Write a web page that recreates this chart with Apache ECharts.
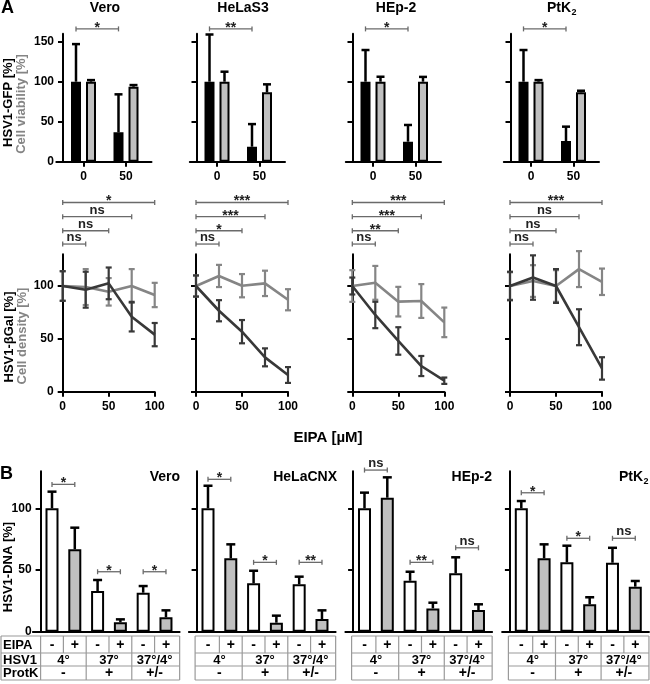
<!DOCTYPE html>
<html><head><meta charset="utf-8">
<script src="https://cdn.jsdelivr.net/npm/echarts@6/dist/echarts.min.js"></script>
<style>html,body{margin:0;padding:0;background:#fff}#c{width:650px;height:684px}</style>
</head><body><div id="c"></div>
<script>
// ---------------- DATA ----------------
// Panel A, top: HSV1-GFP (black) and cell viability (gray) at 0 / 50 µM EIPA
const cellLinesA = ['Vero', 'HeLaS3', 'HEp-2', 'PtK2'];
const doseA = [0, 50];
const doseALabels = ['0', '50'];
const gfpMean = [[100, 36.7], [100, 18.7], [100, 25], [100, 25.9]];
const gfpErr  = [[47, 47.5], [59, 28.3], [39.6, 20.9], [39.6, 17.9]];
const viaMean = [[100, 93.7], [100, 86.7], [100, 100], [100, 86.7]];
const viaErr  = [[2, 2.1], [12.5, 10], [6.2, 6], [2, 2]];
const sigA = ['*', '**', '*', '*'];
const yTicksA = [0, 50, 100, 150];

// Panel A, middle: HSV1-βGal (dark) and cell density (light) vs EIPA dose
const doseLine = [0, 25, 50, 75, 100];
const xTicksLine = [0, 50, 100];
const galMean = [
  [100, 96.5, 102.5, 71, 54],
  [100, 76.6, 56.8, 32.5, 15.8],
  [100, 72.6, 48, 24.3, 10.4],
  [100, 108, 100, 61, 22]];
const galErr = [
  [14, 17, 15, 14, 11],
  [10, 10, 11, 8.5, 7.5],
  [8, 12.5, 13, 9.5, 3],
  [13.5, 21, 16, 17, 10.6]];
const densMean = [
  [100, 99, 94.5, 100, 91.5],
  [100, 109.5, 100.3, 102.5, 87],
  [100, 103, 85.2, 85.8, 65.6],
  [100, 104.7, 100, 116, 104]];
const densErr = [
  [14, 17, 13, 16, 11.5],
  [10, 10.5, 11, 12, 10],
  [15, 16, 14, 16, 14],
  [13, 15, 15, 17, 12.5]];
const sigLineEnds = [100, 75, 50, 25];
const sigLine = [
  ['*', 'ns', 'ns', 'ns'],
  ['***', '***', '*', 'ns'],
  ['***', '***', '**', 'ns'],
  ['***', 'ns', 'ns', 'ns']];
const yTicksLine = [0, 50, 100];

// Panel B: HSV1-DNA
const cellLinesB = ['Vero', 'HeLaCNX', 'HEp-2', 'PtK2'];
const eipaRow = ['-', '+', '-', '+', '-', '+'];
const hsvRow = ['4°', '37°', '37°/4°'];
const protRow = ['-', '+', '+/-'];
const rowLabels = ['EIPA', 'HSV1', 'ProtK'];
const dnaMean = [
  [100, 66.8, 33, 7.6, 31.6, 11.7],
  [100, 59.5, 39.2, 7.3, 38.4, 10.3],
  [100, 108.6, 41.3, 18.9, 47.3, 17.6],
  [100, 59.5, 56.2, 22.2, 55.9, 36.5]];
const dnaErr = [
  [13.5, 17.5, 8.9, 2.4, 5.4, 5.6],
  [18.3, 11.3, 10.2, 5.7, 6.2, 7],
  [12.7, 16.5, 7.3, 4.6, 13, 4.6],
  [5.9, 11.3, 13.5, 5.7, 12.1, 4.6]];
const sigB = [['*', '*', '*'], ['*', '*', '**'], ['ns', '**', 'ns'], ['*', '*', 'ns']];
const yTicksB = [0, 50, 100];

// ---------------- LAYOUT / STYLE ----------------
const FONT = '"Liberation Sans", Arial, Helvetica, sans-serif';
const GRAYBAR = '#c0c0c0', DARK = '#383838', LIGHT = '#858585', BRK = '#6a6a6a';
const sigALevel = 166;
const sigLineLevels = [179, 165.6, 152.3, 139.7];
const sigBLevels = [[119.4, 48.6, 48.6], [123.5, 56.2, 56.2], [131, 56.2, 68], [112.6, 75.7, 75.7]];
const aTick0 = [83.5, 217, 373, 531];
const mLeft = [62.7, 196, 352.3, 510];
const bC0 = [52, 208, 364.5, 521.3];

const chart = echarts.init(document.getElementById('c'), null, {renderer: 'canvas', width: 650, height: 684});
const grids = [], xAxes = [], yAxes = [], series = [];

function yAx(gi, max, ticks, showLab, offset) {
  return {type: 'value', gridIndex: gi, min: 0, max: max, offset: offset,
    axisLine: {show: true, onZero: false, lineStyle: {color: '#000', width: 2}},
    axisTick: {show: true, length: 5, lineStyle: {color: '#000', width: 2}, customValues: ticks},
    axisLabel: {show: showLab, customValues: ticks, fontFamily: FONT, fontWeight: 'bold', fontSize: 12, color: '#000', margin: 9},
    splitLine: {show: false}};
}
function xAx(gi, min, max, ticks, showTicks) {
  return {type: 'value', gridIndex: gi, min: min, max: max,
    axisLine: {show: true, onZero: false, lineStyle: {color: '#000', width: 2}},
    axisTick: {show: showTicks, length: 5, lineStyle: {color: '#000', width: 2}, customValues: ticks},
    axisLabel: {show: showTicks, customValues: ticks, fontFamily: FONT, fontWeight: 'bold', fontSize: 12, color: '#000', margin: 9},
    splitLine: {show: false}};
}
function errRender(offsetPx, color, both, cap, lw) {
  return function (params, api) {
    const x = api.value(0), m = api.value(1), e = api.value(2);
    const pT = api.coord([x, m + e]);
    const pB = api.coord([x, both ? m - e : m]);
    const cx = pT[0] + offsetPx;
    const st = {stroke: color, lineWidth: lw};
    const ch = [
      {type: 'line', shape: {x1: cx, y1: pB[1], x2: cx, y2: pT[1]}, style: st},
      {type: 'line', shape: {x1: cx - cap, y1: pT[1], x2: cx + cap, y2: pT[1]}, style: st}];
    if (both) ch.push({type: 'line', shape: {x1: cx - cap, y1: pB[1], x2: cx + cap, y2: pB[1]}, style: st});
    return {type: 'group', children: ch};
  };
}
function bracketRender(labels, offsetPx) {
  return function (params, api) {
    const lv = api.value(2);
    const p1 = api.coord([api.value(0), lv]);
    const p2 = api.coord([api.value(1), lv]);
    const x1 = p1[0] + offsetPx, x2 = p2[0] + offsetPx, y = p1[1];
    const st = {stroke: BRK, lineWidth: 1.3};
    const lab = labels[params.dataIndex];
    const star = lab.indexOf('*') >= 0;
    return {type: 'group', children: [
      {type: 'line', shape: {x1: x1, y1: y, x2: x2, y2: y}, style: st},
      {type: 'line', shape: {x1: x1, y1: y - 2.5, x2: x1, y2: y + 2.5}, style: st},
      {type: 'line', shape: {x1: x2, y1: y - 2.5, x2: x2, y2: y + 2.5}, style: st},
      {type: 'text', x: (x1 + x2) / 2, y: star ? y + 6 : y,
        style: {text: lab, align: 'center', verticalAlign: 'bottom', fill: '#222',
          font: 'bold ' + (star ? 14 : 13) + 'px ' + FONT}}]};
  };
}

// ---- A top: bars
for (let i = 0; i < 4; i++) {
  grids.push({left: aTick0[i] - 27.2, top: 33.7, width: 95.2, height: 128});
  xAxes.push(xAx(i, -32, 80, doseA, true));
  yAxes.push(yAx(i, 160, yTicksA, i === 0, -6.7));
  series.push({type: 'bar', xAxisIndex: i, yAxisIndex: i, barWidth: 10, barGap: '50%', z: 2,
    itemStyle: {color: '#000', borderColor: '#000', borderWidth: 2},
    data: doseA.map((d, j) => [d, gfpMean[i][j]])});
  series.push({type: 'bar', xAxisIndex: i, yAxisIndex: i, barWidth: 10, barGap: '50%', z: 2,
    itemStyle: {color: GRAYBAR, borderColor: '#000', borderWidth: 2},
    data: doseA.map((d, j) => [d, viaMean[i][j]])});
  series.push({type: 'custom', xAxisIndex: i, yAxisIndex: i, z: 3, clip: false,
    renderItem: errRender(-7.5, '#000', false, 4, 2.5),
    data: doseA.map((d, j) => [d, gfpMean[i][j], gfpErr[i][j]])});
  series.push({type: 'custom', xAxisIndex: i, yAxisIndex: i, z: 3, clip: false,
    renderItem: errRender(7.5, '#000', false, 4, 2.5),
    data: doseA.map((d, j) => [d, viaMean[i][j], viaErr[i][j]])});
  series.push({type: 'custom', xAxisIndex: i, yAxisIndex: i, z: 3, clip: false,
    renderItem: bracketRender([sigA[i]], -7.5),
    data: [[doseA[0], doseA[1], sigALevel]]});
}
// ---- A middle: lines
for (let i = 0; i < 4; i++) {
  const gi = 4 + i;
  grids.push({left: mLeft[i], top: 254.3, width: 92, height: 137.4});
  xAxes.push(xAx(gi, 0, 100, xTicksLine, true));
  yAxes.push(yAx(gi, 130, yTicksLine, i === 0, 0));
  series.push({type: 'line', xAxisIndex: gi, yAxisIndex: gi, symbol: 'none', z: 2,
    lineStyle: {color: LIGHT, width: 2.6}, data: doseLine.map((d, j) => [d, densMean[i][j]])});
  series.push({type: 'custom', xAxisIndex: gi, yAxisIndex: gi, z: 2, clip: false,
    renderItem: errRender(0, LIGHT, true, 3, 2.2),
    data: doseLine.map((d, j) => [d, densMean[i][j], densErr[i][j]])});
  series.push({type: 'line', xAxisIndex: gi, yAxisIndex: gi, symbol: 'none', z: 3,
    lineStyle: {color: DARK, width: 2.6}, data: doseLine.map((d, j) => [d, galMean[i][j]])});
  series.push({type: 'custom', xAxisIndex: gi, yAxisIndex: gi, z: 3, clip: false,
    renderItem: errRender(0, DARK, true, 3, 2.2),
    data: doseLine.map((d, j) => [d, galMean[i][j], galErr[i][j]])});
  series.push({type: 'custom', xAxisIndex: gi, yAxisIndex: gi, z: 3, clip: false,
    renderItem: bracketRender(sigLine[i], 0),
    data: sigLineEnds.map((e, k) => [0, e, sigLineLevels[k]])});
}
// ---- B: bars
for (let i = 0; i < 4; i++) {
  const gi = 8 + i;
  grids.push({left: bC0[i] - 19.15, top: 471.3, width: 146.8, height: 160.4});
  xAxes.push(xAx(gi, -0.84, 5.6, [], false));
  yAxes.push(yAx(gi, 130, yTicksB, i === 0, -7.75));
  series.push({type: 'bar', xAxisIndex: gi, yAxisIndex: gi, barWidth: 13, z: 2,
    itemStyle: {borderColor: '#000', borderWidth: 2,
      color: p => eipaRow[p.dataIndex] === '+' ? GRAYBAR : '#fff'},
    data: dnaMean[i].map((v, j) => [j, v])});
  series.push({type: 'custom', xAxisIndex: gi, yAxisIndex: gi, z: 3, clip: false,
    renderItem: errRender(0, '#000', false, 4.5, 2.5),
    data: dnaMean[i].map((v, j) => [j, v, dnaErr[i][j]])});
  series.push({type: 'custom', xAxisIndex: gi, yAxisIndex: gi, z: 3, clip: false,
    renderItem: bracketRender(sigB[i], 0),
    data: [0, 1, 2].map(k => [2 * k, 2 * k + 1, sigBLevels[i][k]])});
}

chart.setOption({animation: false, backgroundColor: '#fff', grid: grids, xAxis: xAxes, yAxis: yAxes, series: series});

// ---------------- TEXT / TABLE GRAPHICS ----------------
const G = [];
function T(x, y, text, size, opts) {
  opts = opts || {};
  G.push({type: 'text', x: x, y: y, rotation: opts.rot || 0, z: 10,
    style: {text: text, font: 'bold ' + size + 'px ' + FONT, fill: opts.fill || '#000',
      align: opts.align || 'center', verticalAlign: opts.va || 'middle'}});
}
function L(x1, y1, x2, y2) {
  G.push({type: 'line', z: 9, shape: {x1: x1, y1: y1, x2: x2, y2: y2}, style: {stroke: '#9a9a9a', lineWidth: 1.2}});
}
T(1, 8, 'A', 18, {align: 'left'});
T(0, 474, 'B', 18, {align: 'left'});
// top titles
const titleA = [105, 243, 396];
for (let i = 0; i < 3; i++) T(titleA[i], 8, cellLinesA[i], 14);
T(571, 8, 'PtK', 14, {align: 'right'});
T(571.5, 12.5, '2', 9, {align: 'left'});
// B titles
const titleBRight = [180, 337, 492];
for (let i = 0; i < 3; i++) T(titleBRight[i], 477, cellLinesB[i], 14, {align: 'right'});
T(643, 477, 'PtK', 14, {align: 'right'});
T(643.5, 481.5, '2', 9, {align: 'left'});
// axis names
const R = Math.PI / 2;
T(8.3, 102.5, 'HSV1-GFP [%]', 13, {rot: R});
T(21.7, 104, 'Cell viability [%]', 13, {rot: R, fill: '#858585'});
T(9, 337, 'HSV1-βGal [%]', 13, {rot: R});
T(22, 336, 'Cell density [%]', 13, {rot: R, fill: '#858585'});
T(8.3, 567, 'HSV1-DNA [%]', 13, {rot: R});
T(328, 438, 'EIPA [µM]', 15);
// tables
const rowY = [636, 653, 666, 680];
for (let i = 0; i < 4; i++) {
  const xp = v => chart.convertToPixel({xAxisIndex: 8 + i}, v);
  const left = i === 0 ? 1 : xp(-0.5) - 1.5;
  const right = xp(5.6);
  rowY.forEach(y => L(left, y, right, y));
  L(left, rowY[0], left, rowY[3]);
  L(right, rowY[0], right, rowY[3]);
  if (i === 0) L(xp(-0.5), rowY[0], xp(-0.5), rowY[3]);
  for (let k = 0; k < 5; k++) {
    const x = xp(k + 0.5);
    L(x, rowY[0], x, (k === 1 || k === 3) ? rowY[3] : rowY[1]);
  }
  const mid = r => (rowY[r] + rowY[r + 1]) / 2 + 0.5;
  eipaRow.forEach((t, j) => T(xp(j), mid(0), t, 14));
  hsvRow.forEach((t, m) => T(xp(2 * m + 0.5), mid(1), t, 13));
  protRow.forEach((t, m) => T(xp(2 * m + 0.5), mid(2), t, 14));
  if (i === 0) rowLabels.forEach((t, r) => T(3, mid(r), t, 13, {align: 'left'}));
}
chart.setOption({graphic: {elements: G}});
</script></body></html>
